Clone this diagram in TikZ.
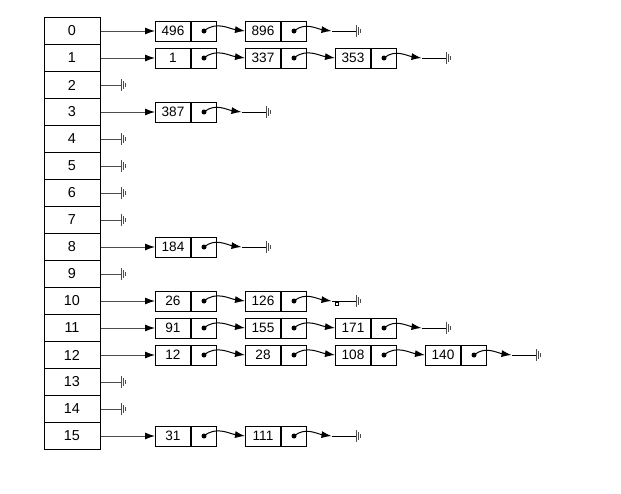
\documentclass[tikz,border=0pt]{standalone}
\usepackage{fontspec}
\setmainfont{Liberation Sans}
\usetikzlibrary{arrows.meta,positioning}
\tikzset{
  slot/.style={draw,minimum width=28pt,minimum height=13.5pt,inner sep=0pt,
    font=\fontsize{7.2}{8}\selectfont},
  keybox/.style={draw,minimum width=17.5pt,minimum height=10pt,inner sep=0pt,
    anchor=west,font=\fontsize{6.8}{7}\selectfont},
  ptrbox/.style={draw,minimum width=12.5pt,minimum height=10pt,inner sep=0pt},
  headlink/.style={-{Latex[length=5pt,width=3.5pt,color=black]},gray!60!black},
  nextlink/.style={-{Latex[length=5pt,width=3.5pt]},out=40,in=172},
  nilline/.style={gray!60!black}
}
% null pointer mark (three bars)
\newcommand\nilmark[1]{%
  \draw[nilline] (#1) ++(0,-6) -- ++(0,12) ++(2,-10) -- ++(0,8) ++(2,-6) -- ++(0,4);}

\begin{document}
\begin{tikzpicture}[x=0.5pt,y=-0.5pt,line width=0.5pt]
  \useasboundingbox (0,0) rectangle (621,493);
  % the table
  \foreach \i in {0,...,15}
    \node[slot] (a\i) at (72,31+27*\i) {\i};
  % empty buckets
  \foreach \r in {2,4,5,6,7,9,13,14}{
    \draw[nilline] (a\r.east) -- ++(21,0) coordinate (z\r);
    \nilmark{z\r}}
  % chains
  \foreach \r/\n/\keys in {0/2/{496,896},1/3/{1,337,353},3/1/{387},8/1/{184},
      10/2/{26,126},11/3/{91,155,171},12/4/{12,28,108,140},15/2/{31,111}}{
    \foreach \v [count=\c] in \keys {
      \node[keybox] (k\r-\c) at (155+90*\c-90,31+27*\r) {\v};
      \node[ptrbox,right=0pt of k\r-\c] (p\r-\c) {};
      \fill (p\r-\c.center) circle (2.5);
      \ifnum\c=1
        \draw[headlink] (a\r.east) -- (k\r-\c.west);
      \else
        \pgfmathtruncatemacro\b{\c-1}
        \draw[nextlink] (p\r-\b.center) to (k\r-\c.west);
      \fi
    }
    \draw[nextlink] (p\r-\n.center) to ++(37.5,0) coordinate (t\r);
    \draw (t\r) -- ++(25,0) coordinate (z\r);
    \nilmark{z\r}
  }
  \draw (335.5,302) rectangle ++(3,3);
\end{tikzpicture}
\end{document}
